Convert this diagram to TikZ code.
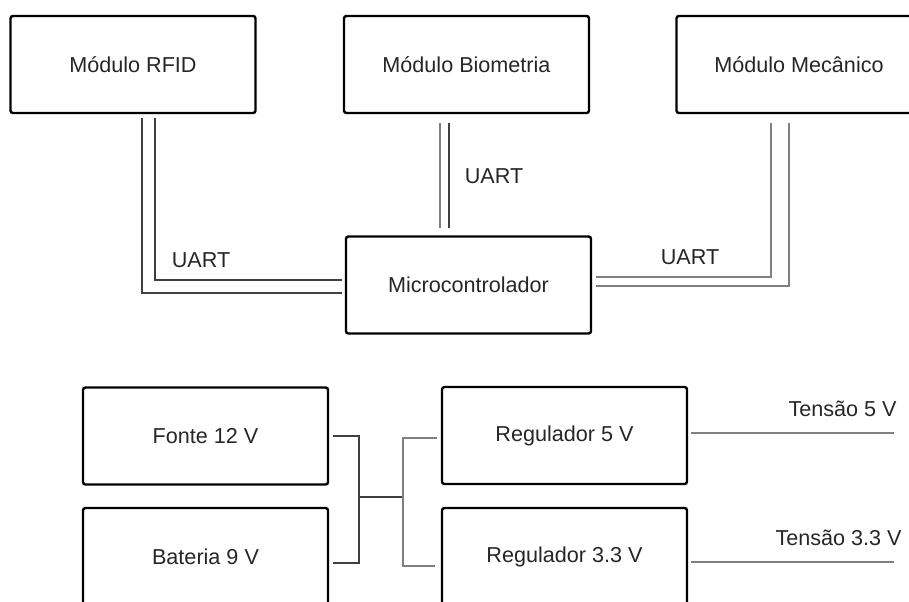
\documentclass[tikz,border=0pt]{standalone}
\usepackage{fontspec}
\setmainfont{Liberation Sans}
\usepackage{xcolor}
\usetikzlibrary{calc}

\begin{document}
\begin{tikzpicture}[x=0.5pt, y=-0.5pt,
        block/.style={draw, line width=1.2pt, rounded corners=1.2pt,
                      minimum width=122.5pt, minimum height=48.5pt,
                      align=center, text=black!85,
                      font=\fontsize{10.8}{12}\selectfont},
        tag/.style={text=black!85, inner sep=0pt,
                    font=\fontsize{10.8}{12}\selectfont},
        wire/.style={line width=0.7pt, black!75},
        wirelt/.style={line width=0.7pt, black!50}
    ]
        \path[use as bounding box, clip] (0,0) rectangle (909,601);
        % modules and controller
        \node[block] (rfid) at (133,64.5)   {Módulo RFID};
        \node[block] (bio)  at (466.5,64.5) {Módulo Biometria};
        \node[block] (mec)  at (799,64.5)   {Módulo Mecânico};
        \node[block] (mcu)  at (468.5,285)  {Microcontrolador};
        % power
        \node[block] (fonte) at (205.5,436)   {Fonte 12 V};
        \node[block] (bat)   at (205.5,556.5) {Bateria 9 V};
        \node[block] (reg5)  at (564.5,435.5) {Regulador 5 V};
        \node[block] (reg33) at (564.5,556.5) {Regulador 3.3 V};

        % UART links
        \draw[wire] ($(rfid.south)+(9,4)$) |- ($(mcu.west)+(-3,8)$);
        \draw[wire] ($(rfid.south)+(22,4)$) |- ($(mcu.west)+(-3,-5)$);
        \draw[wirelt] ($(bio.south)+(-26.5,9)$) -- ($(bio.south|-mcu.north)+(-26.5,-7)$);
        \draw[wire] ($(bio.south)+(-17.5,9)$) -- ($(bio.south|-mcu.north)+(-17.5,-7)$);
        \draw[wirelt] ($(mec.south)+(-28,9)$) |- ($(mcu.east)+(4,-8)$);
        \draw[wirelt] ($(mec.south)+(-10,9)$) |- ($(mcu.east)+(4,1)$);
        \node[tag] (uart1) at (201,260) {UART};
        \node[tag] (uart2) at (494,176) {UART};
        \node[tag] (uart3) at (690,257) {UART};

        % supply bus
        \coordinate (jl) at (359,497);
        \coordinate (jr) at (403,497);
        \draw[wire] ($(fonte.east)+(4,0)$) -| (jl) |- ($(bat.east)+(4,6.5)$);
        \draw[wire] (jl) -- (jr);
        \draw[wirelt] ($(reg5.west)+(-4,2.5)$) -| (jr) |- ($(reg33.west)+(-6,9.5)$);

        % outputs
        \coordinate (out5)  at (894,433);
        \coordinate (out33) at (894,562);
        \draw[wirelt] ($(reg5.east)+(3,-2.5)$) -- (out5);
        \draw[wirelt] ($(reg33.east)+(3,5.5)$) -- (out33);
        \node[tag, anchor=east] (t5)  at (897,409) {Tensão 5 V};
        \node[tag, anchor=east] (t33) at (902,538) {Tensão 3.3 V};
    \end{tikzpicture}
\end{document}
